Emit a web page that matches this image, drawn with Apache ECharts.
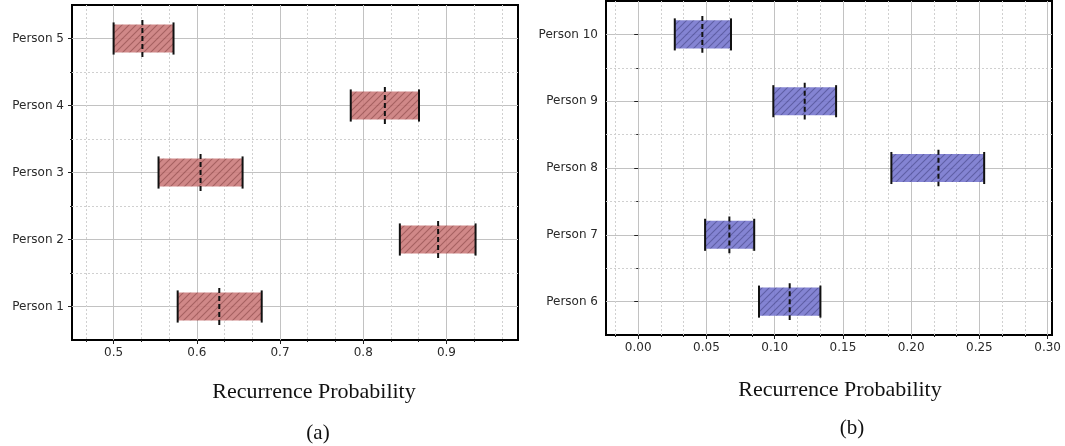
<!DOCTYPE html>
<html>
<head>
<meta charset="utf-8">
<script src="https://cdn.jsdelivr.net/npm/echarts@6/dist/echarts.min.js"></script>
<style>
html,body{margin:0;padding:0;background:#fff;}
#chart{width:1065px;height:446px;}
</style>
</head>
<body>
<div id="chart"></div>
<script>
// ---- Data ----
const catsA = ['Person 1', 'Person 2', 'Person 3', 'Person 4', 'Person 5'];
const loA  = [0.577, 0.844, 0.554, 0.785, 0.500];
const medA = [0.627, 0.890, 0.6045, 0.826, 0.5346];
const hiA  = [0.678, 0.935, 0.655, 0.867, 0.572];

const catsB = ['Person 6', 'Person 7', 'Person 8', 'Person 9', 'Person 10'];
const loB  = [0.0885, 0.049, 0.1855, 0.099, 0.0268];
const medB = [0.111, 0.0668, 0.220, 0.122, 0.047];
const hiB  = [0.1335, 0.085, 0.2535, 0.145, 0.068];

const xTicksA = [0.5, 0.6, 0.7, 0.8, 0.9];
const xMinorA = [0.4667, 0.5333, 0.5667, 0.6333, 0.6667, 0.7333, 0.7667, 0.8333, 0.8667, 0.9333, 0.9667];
const xTicksB = [0.00, 0.05, 0.10, 0.15, 0.20, 0.25, 0.30];
const xMinorB = [-0.01667, 0.01667, 0.03333, 0.06667, 0.08333, 0.11667, 0.13333, 0.16667, 0.18333, 0.21667, 0.23333, 0.26667, 0.28333];
const yTicks = [1, 2, 3, 4, 5];
const yMinor = [1.5, 2.5, 3.5, 4.5];

// ---- Styles ----
function makeHatch(bg, fg) {
  const s = 7;
  const c = document.createElement('canvas');
  c.width = s; c.height = s;
  const g = c.getContext('2d');
  g.fillStyle = bg; g.fillRect(0, 0, s, s);
  g.strokeStyle = fg; g.lineWidth = 1.1;
  g.beginPath();
  g.moveTo(0, s); g.lineTo(s, 0);
  g.moveTo(-1, 1); g.lineTo(1, -1);
  g.moveTo(s - 1, s + 1); g.lineTo(s + 1, s - 1);
  g.stroke();
  return c;
}
const patA = { image: makeHatch('rgb(204,126,126)', 'rgb(158,84,84)'), repeat: 'repeat' };
const patB = { image: makeHatch('rgb(122,122,208)', 'rgb(82,82,158)'), repeat: 'repeat' };

const labelFont = { fontFamily: 'DejaVu Sans', fontSize: 12, color: '#2a2a2a' };
const majorLine = { color: '#c2c2c2', width: 1 };
const minorLine = { color: '#d0d0d0', width: 1, type: [2, 2] };

function renderBox(pat) {
  return function (params, api) {
    const y = api.value(0), lo = api.value(1), med = api.value(2), hi = api.value(3);
    const pLo = api.coord([lo, y]), pHi = api.coord([hi, y]), pMed = api.coord([med, y]);
    const unit = api.size([0, 1])[1];
    const bh = unit * 0.42, ch = unit * 0.48, mh = unit * 0.55;
    const cy = pLo[1];
    return {
      type: 'group',
      children: [
        { type: 'rect', shape: { x: pLo[0], y: cy - bh / 2, width: pHi[0] - pLo[0], height: bh }, style: { fill: pat, opacity: 0.92 } },
        { type: 'line', shape: { x1: pLo[0], y1: cy - ch / 2, x2: pLo[0], y2: cy + ch / 2 }, style: { stroke: '#111', lineWidth: 2 } },
        { type: 'line', shape: { x1: pHi[0], y1: cy - ch / 2, x2: pHi[0], y2: cy + ch / 2 }, style: { stroke: '#111', lineWidth: 2 } },
        { type: 'line', shape: { x1: pMed[0], y1: cy - mh / 2, x2: pMed[0], y2: cy + mh / 2 }, style: { stroke: '#111', lineWidth: 2, lineDash: [5, 3] } }
      ]
    };
  };
}

function xMajor(grid, min, max, ticks, digits) {
  return {
    gridIndex: grid, type: 'value', min: min, max: max, position: 'bottom',
    axisLine: { show: false },
    axisTick: { show: true, customValues: ticks, length: 4, lineStyle: { color: '#222', width: 1 } },
    axisLabel: Object.assign({ customValues: ticks, margin: 7, formatter: v => v.toFixed(digits) }, labelFont),
    splitLine: { show: true, lineStyle: majorLine }
  };
}
function xMinorAxis(grid, min, max, ticks) {
  return {
    gridIndex: grid, type: 'value', min: min, max: max, position: 'bottom',
    axisLine: { show: false },
    axisTick: { show: true, customValues: ticks, length: 2, lineStyle: { color: '#222', width: 1 } },
    axisLabel: { show: false, customValues: ticks },
    splitLine: { show: true, lineStyle: minorLine }
  };
}
function yMajor(grid, cats) {
  return {
    gridIndex: grid, type: 'value', min: 0.5, max: 5.5, position: 'left',
    axisLine: { show: false },
    axisTick: { show: true, customValues: yTicks, length: 4, lineStyle: { color: '#222', width: 1 } },
    axisLabel: Object.assign({ customValues: yTicks, margin: 8, formatter: v => cats[Math.round(v) - 1] }, labelFont),
    splitLine: { show: true, lineStyle: majorLine }
  };
}
function yMinorAxis(grid) {
  return {
    gridIndex: grid, type: 'value', min: 0.5, max: 5.5, position: 'left',
    axisLine: { show: false },
    axisTick: { show: true, customValues: yMinor, length: 2, lineStyle: { color: '#222', width: 1 } },
    axisLabel: { show: false, customValues: yMinor },
    splitLine: { show: true, lineStyle: minorLine }
  };
}

const chart = echarts.init(document.getElementById('chart'), null, { renderer: 'canvas' });
chart.setOption({
  animation: false,
  backgroundColor: '#fff',
  grid: [
    { left: 72, top: 5, width: 446, height: 335, show: true, borderColor: '#000', borderWidth: 2, backgroundColor: 'transparent' },
    { left: 606, top: 1, width: 446, height: 334, show: true, borderColor: '#000', borderWidth: 2, backgroundColor: 'transparent' }
  ],
  xAxis: [
    xMajor(0, 0.45, 0.986, xTicksA, 1),
    xMinorAxis(0, 0.45, 0.986, xMinorA),
    xMajor(1, -0.0236, 0.3032, xTicksB, 2),
    xMinorAxis(1, -0.0236, 0.3032, xMinorB)
  ],
  yAxis: [
    yMajor(0, catsA),
    yMinorAxis(0),
    yMajor(1, catsB),
    yMinorAxis(1)
  ],
  series: [
    {
      type: 'custom', xAxisIndex: 0, yAxisIndex: 0, z: 5,
      renderItem: renderBox(patA),
      encode: { x: [1, 2, 3], y: 0 },
      data: catsA.map((c, i) => [i + 1, loA[i], medA[i], hiA[i]])
    },
    {
      type: 'custom', xAxisIndex: 2, yAxisIndex: 2, z: 5,
      renderItem: renderBox(patB),
      encode: { x: [1, 2, 3], y: 0 },
      data: catsB.map((c, i) => [i + 1, loB[i], medB[i], hiB[i]])
    }
  ],
  graphic: [
    { type: 'text', x: 314, y: 392, style: { text: 'Recurrence Probability', font: '22px "Liberation Serif"', fill: '#111', textAlign: 'center', textVerticalAlign: 'middle' } },
    { type: 'text', x: 318, y: 433, style: { text: '(a)', font: '21px "Liberation Serif"', fill: '#111', textAlign: 'center', textVerticalAlign: 'middle' } },
    { type: 'text', x: 840, y: 390, style: { text: 'Recurrence Probability', font: '22px "Liberation Serif"', fill: '#111', textAlign: 'center', textVerticalAlign: 'middle' } },
    { type: 'text', x: 852, y: 428, style: { text: '(b)', font: '21px "Liberation Serif"', fill: '#111', textAlign: 'center', textVerticalAlign: 'middle' } }
  ]
});
</script>
</body>
</html>
